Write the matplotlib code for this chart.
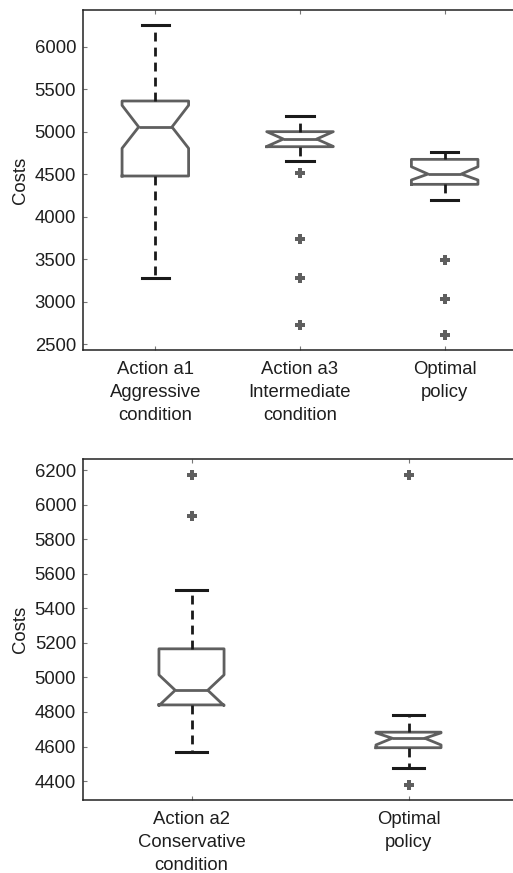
import matplotlib
matplotlib.use("Agg")
import matplotlib.pyplot as plt

# ---- data: top panel ----
top_labels = ["Action a1\nAggressive\ncondition", "Action a3\nIntermediate\ncondition", "Optimal\npolicy"]
top_med = [5055, 4913, 4501]
top_q1 = [4478, 4823, 4380]
top_q3 = [5361, 5000, 4674]
top_whislo = [3274, 4655, 4195]
top_whishi = [6259, 5184, 4760]
top_cilo = [4804, 4826, 4431]
top_cihi = [5310, 5000, 4587]
top_fliers = [[], [4510, 3733, 3278, 2724], [3489, 3026, 2610]]
top_yticks = [2500, 3000, 3500, 4000, 4500, 5000, 5500, 6000]

# ---- data: bottom panel ----
bot_labels = ["Action a2\nConservative\ncondition", "Optimal\npolicy"]
bot_med = [4926, 4648]
bot_q1 = [4841, 4593]
bot_q3 = [5166, 4683]
bot_whislo = [4570, 4476]
bot_whishi = [5508, 4781]
bot_cilo = [4837, 4609]
bot_cihi = [5015, 4679]
bot_fliers = [[6175, 5933], [6175, 4377]]
bot_yticks = [4400, 4600, 4800, 5000, 5200, 5400, 5600, 5800, 6000, 6200]

plt.rcParams['font.family'] = ['Liberation Sans', 'DejaVu Sans']

W, H = 513, 873
fig = plt.figure(figsize=(W / 100, H / 100), dpi=100)

box_color = "#5f5f5f"
txt_color = "#1e1e1e"


def make_stats(labels, med, q1, q3, lo, hi, cilo, cihi, fliers):
    stats = []
    for i in range(len(labels)):
        stats.append(dict(label=labels[i], med=med[i], q1=q1[i], q3=q3[i],
                          whislo=lo[i], whishi=hi[i], cilo=cilo[i], cihi=cihi[i],
                          fliers=fliers[i]))
    return stats


def panel(rect, stats, ylim, yticks, width, capw):
    ax = fig.add_axes(rect)
    n = len(stats)
    pos = list(range(1, n + 1))
    ax.bxp(stats, positions=pos, widths=width, capwidths=capw, shownotches=True,
           showfliers=True,
           boxprops=dict(color=box_color, linewidth=2.0),
           medianprops=dict(color=box_color, linewidth=2.0),
           whiskerprops=dict(color="#1a1a1a", linewidth=2.0, linestyle=(0, (3.2, 2.2))),
           capprops=dict(color="#1a1a1a", linewidth=2.2),
           flierprops=dict(marker="P", markersize=7, markerfacecolor=box_color,
                           markeredgecolor=box_color, linestyle="none", markeredgewidth=0))
    ax.set_xlim(0.5, n + 0.5)
    ax.set_ylim(*ylim)
    ax.set_yticks(yticks)
    ax.set_xticks(pos)
    ax.set_xticklabels([s["label"] for s in stats], fontsize=13.3, color=txt_color,
                       linespacing=1.45)
    ax.tick_params(axis="y", labelsize=13.3, labelcolor=txt_color, pad=5)
    ax.tick_params(axis="x", pad=8)
    ax.tick_params(direction="in", length=3, width=0.8, color="#777777",
                   top=True, right=True)
    for s in ax.spines.values():
        s.set_linewidth(1.1)
        s.set_color("#222222")
    ax.set_ylabel("Costs", fontsize=13.3, color=txt_color, labelpad=4)
    return ax


top_rect = [83 / W, 1 - 350 / H, (517 - 83) / W, (350 - 10) / H]
bot_rect = [83 / W, 1 - 800 / H, (517 - 83) / W, (800 - 459) / H]

panel(top_rect,
      make_stats(top_labels, top_med, top_q1, top_q3, top_whislo, top_whishi,
                 top_cilo, top_cihi, top_fliers),
      (2430, 6432), top_yticks, 0.46, 0.19)
panel(bot_rect,
      make_stats(bot_labels, bot_med, bot_q1, bot_q3, bot_whislo, bot_whishi,
                 bot_cilo, bot_cihi, bot_fliers),
      (4290, 6266), bot_yticks, 0.30, 0.145)

fig.savefig("out.png", dpi=100, facecolor="white")
